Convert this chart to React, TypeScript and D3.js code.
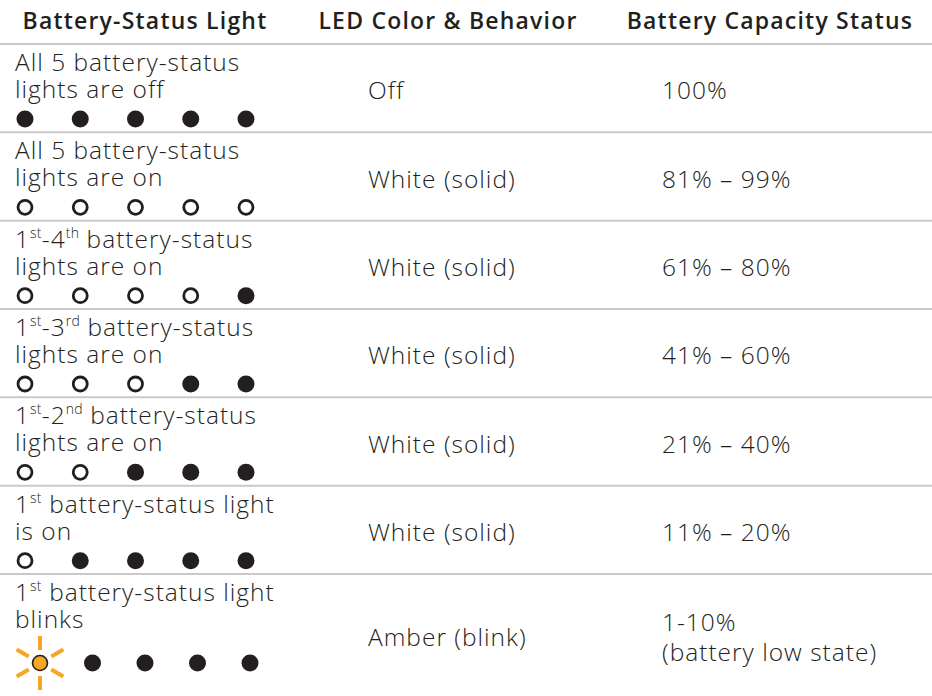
import React from "react";
import * as d3 from "d3";

// column headers
const headers = ["Battery-Status Light", "LED Color & Behavior", "Battery Capacity Status"];

// first column text, superscripts marked with {}
const lightLabels = [
  ["All 5 battery-status", "lights are off"],
  ["All 5 battery-status", "lights are on"],
  ["1{st}-4{th} battery-status", "lights are on"],
  ["1{st}-3{rd} battery-status", "lights are on"],
  ["1{st}-2{nd} battery-status", "lights are on"],
  ["1{st} battery-status light", "is on"],
  ["1{st} battery-status light", "blinks"],
];

// 0 = off (filled), 1 = on (hollow), 2 = blinking amber
const lightPatterns = [
  [0, 0, 0, 0, 0],
  [1, 1, 1, 1, 1],
  [1, 1, 1, 1, 0],
  [1, 1, 1, 0, 0],
  [1, 1, 0, 0, 0],
  [1, 0, 0, 0, 0],
  [2, 0, 0, 0, 0],
];

const ledStates = [
  "Off",
  "White (solid)",
  "White (solid)",
  "White (solid)",
  "White (solid)",
  "White (solid)",
  "Amber (blink)",
];

const capacities = [
  ["100%"],
  ["81% – 99%"],
  ["61% – 80%"],
  ["41% – 60%"],
  ["21% – 40%"],
  ["11% – 20%"],
  ["1-10%", "(battery low state)"],
];

const W = 932;
const H = 696;
const INK = "#231f20";
const AMBER = "#f6a623";
const FONT = "'Open Sans', Lato, sans-serif";

const Label = ({ text, x, y }: { text: string; x: number; y: number }) => {
  // "1{st}-4{th} ..." -> normal text with superscript tspans
  const parts = text.split(/(\{[^}]*\})/).filter((p) => p.length);
  let sup = false;
  return (
    <text x={x} y={y}>
      {parts.map((p, i) => {
        if (p.startsWith("{")) {
          sup = true;
          return (
            <tspan key={i} fontSize={14} dy={-10} letterSpacing={0.3}>
              {p.slice(1, -1)}
            </tspan>
          );
        }
        const dy = sup ? 10 : 0;
        sup = false;
        return (
          <tspan key={i} dy={dy}>
            {p}
          </tspan>
        );
      })}
    </text>
  );
};

const Sun = ({ cx, cy }: { cx: number; cy: number }) => {
  const angles = [90, 30, -30, -90, -150, 150];
  return (
    <g transform={`translate(${cx},${cy})`}>
      {angles.map((a) => {
        const r = (a * Math.PI) / 180;
        return (
          <line
            key={a}
            x1={Math.cos(r) * 13}
            y1={-Math.sin(r) * 13}
            x2={Math.cos(r) * 27}
            y2={-Math.sin(r) * 27}
            stroke={AMBER}
            strokeWidth={4}
          />
        );
      })}
      <circle r={7.5} fill={AMBER} stroke={INK} strokeWidth={1.6} />
    </g>
  );
};

export default function App() {
  const n = lightLabels.length;
  const rowTop = d3.scaleLinear().domain([0, n - 1]).range([44, 574]);
  const rowBottom = (i: number) => (i < n - 1 ? rowTop(i + 1) : H);

  const colCenter = [145, 448, 770];
  const colText = [15, 368, 662];

  const dotX = d3.scalePoint<number>().domain([0, 1, 2, 3, 4]).range([25, 246]);
  const blinkX = d3.scalePoint<number>().domain([0, 1, 2, 3, 4]).range([40, 250]);

  return (
    <svg
      width={W}
      height={H}
      style={{ position: "absolute", left: 0, top: 0, background: "#fff" }}
      fontFamily={FONT}
    >
      <rect width={W} height={H} fill="#fff" />
      {headers.map((h, i) => (
        <text
          key={h}
          x={colCenter[i]}
          y={29}
          textAnchor="middle"
          fontSize={23}
          fontWeight={600}
          letterSpacing={1.2}
          fill={INK}
        >
          {h}
        </text>
      ))}

      {d3.range(n).map((i) => (
        <line key={"d" + i} x1={0} x2={W} y1={rowTop(i)} y2={rowTop(i)} stroke="#c9c9c9" strokeWidth={2} />
      ))}

      {lightLabels.map((lines, i) => {
        const top = rowTop(i);
        const mid = (top + rowBottom(i)) / 2;
        const blink = lightPatterns[i].includes(2);
        const x = blink ? blinkX : dotX;
        const dotY = blink ? top + 89 : top + 75;
        return (
          <g key={"r" + i} fill={INK} fontSize={24.5} fontWeight={300} letterSpacing={1}>
            {lines.map((l, j) => (
              <Label key={j} text={l} x={colText[0]} y={top + 27 + j * 27} />
            ))}
            {lightPatterns[i].map((s, k) =>
              s === 2 ? (
                <Sun key={k} cx={x(k)!} cy={dotY} />
              ) : s === 1 ? (
                <circle key={k} cx={x(k)} cy={dotY} r={7} fill="none" stroke={INK} strokeWidth={2.8} />
              ) : (
                <circle key={k} cx={x(k)} cy={dotY} r={8.5} fill={INK} />
              )
            )}
            <text x={colText[1]} y={mid + 11}>
              {ledStates[i]}
            </text>
            {capacities[i].map((c, j) => (
              <text key={j} x={colText[2]} y={mid + 11 - (capacities[i].length - 1) * 15 + j * 30}>
                {c}
              </text>
            ))}
          </g>
        );
      })}
    </svg>
  );
}
